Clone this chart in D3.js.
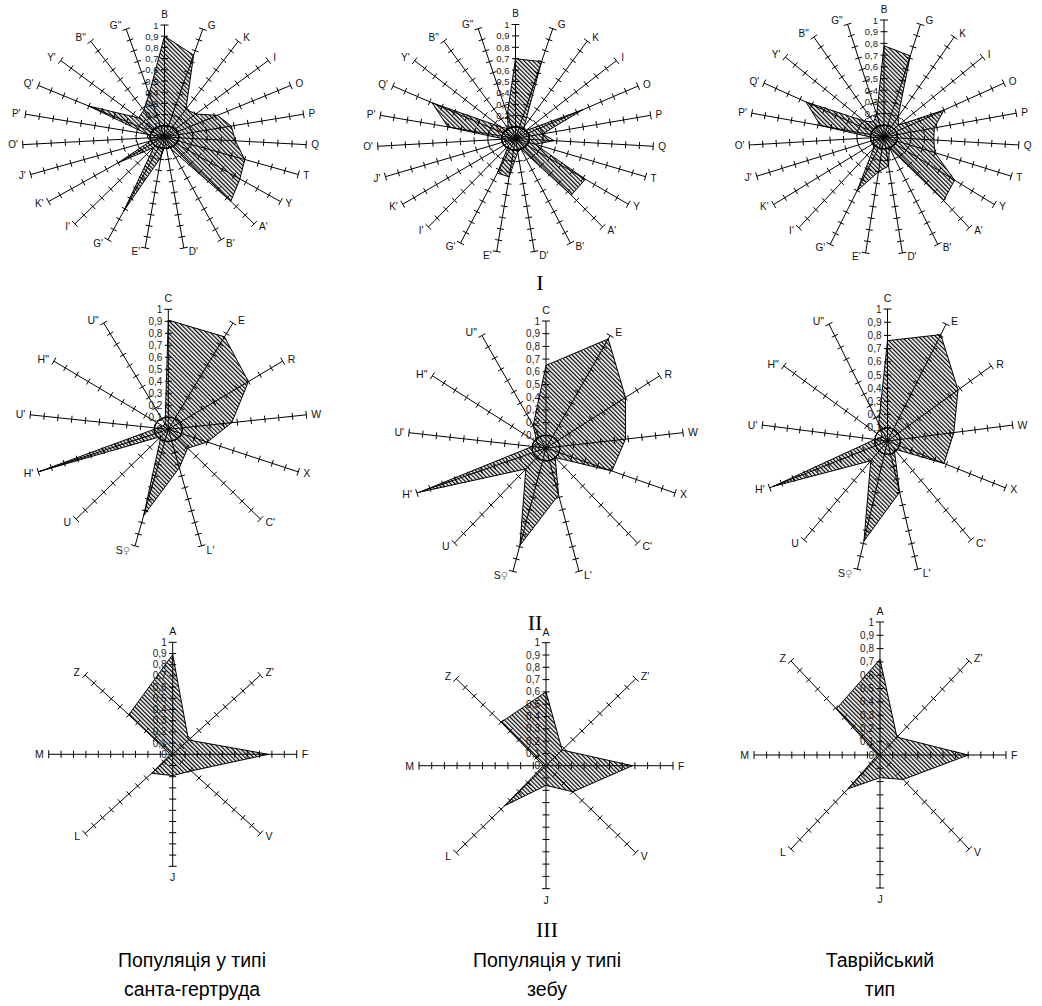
<!DOCTYPE html>
<html><head><meta charset="utf-8">
<script src="https://cdn.jsdelivr.net/npm/d3@7"></script>
<style>body{margin:0;background:#fff}svg{display:block}</style>
</head><body>
<svg id="c" width="1042" height="1006"></svg>
<script>
// ---------- DATA ----------
const axesI = ["B","G","K","I","O","P","Q","T","Y","A'","B'","D'","E'","G'","I'","K'","J'","O'","P'","Q'","Y'","B\"","G\""];
const santaI = [0.90,0.76,0.29,0.30,0.42,0.48,0.50,0.60,0.65,0.74,0.12,0.06,0.18,0.72,0.12,0.40,0.10,0.12,0.12,0.60,0.25,0.28,0.40];
const zebuI  = [0.70,0.70,0.12,0.10,0.55,0.20,0.28,0.15,0.62,0.64,0.10,0.12,0.34,0.33,0.08,0.08,0.08,0.08,0.50,0.68,0.15,0.10,0.22];
const tavrI  = [0.78,0.72,0.20,0.15,0.50,0.38,0.37,0.40,0.64,0.70,0.10,0.25,0.30,0.50,0.12,0.10,0.08,0.08,0.48,0.65,0.20,0.15,0.20];

const axesII = ["C","E","R","W","X","C'","L'","S♀","U","H'","U'","H\"","U\""];
const santaII = [0.91,0.87,0.70,0.46,0.30,0.21,0.33,0.74,0.08,0.99,0.08,0.05,0.05];
const zebuII  = [0.65,0.97,0.70,0.58,0.51,0.10,0.38,0.79,0.22,0.98,0.10,0.08,0.20];
const tavrII  = [0.76,0.91,0.68,0.53,0.48,0.08,0.40,0.78,0.20,0.97,0.10,0.05,0.15];

const axesIII = ["A","Z'","F","V","J","L","M","Z"];
const santaIII = [0.89,0.18,0.77,0.21,0.19,0.24,0.02,0.50];
const zebuIII  = [0.60,0.18,0.68,0.30,0.16,0.46,0.02,0.50];
const tavrIII  = [0.72,0.19,0.70,0.26,0.17,0.36,0.02,0.49];

const tickValues = [0,0.1,0.2,0.3,0.4,0.5,0.6,0.7,0.8,0.9,1];
const tickLabels = ["0","0,1","0,2","0,3","0,4","0,5","0,6","0,7","0,8","0,9","1"];

const groupLabels = ["I","II","III"];
const captions = [["Популяція у типі","санта-гертруда"],["Популяція у типі","зебу"],["Таврійський","тип"]];

// ---------- LAYOUT ----------
const charts = [
  {axes:axesI, vals:santaI, cx:164.5, cy:137, rx:142, ry:112, circle:true, fs:9.5},
  {axes:axesI, vals:zebuI,  cx:515.5, cy:138.5, rx:138, ry:114, circle:true, fs:9.5},
  {axes:axesI, vals:tavrI,  cx:884,   cy:137, rx:135, ry:117, circle:true, fs:9.5},
  {axes:axesII, vals:santaII, cx:168.3, cy:429.3, rx:139, ry:120, circle:true, fs:10},
  {axes:axesII, vals:zebuII,  cx:546,   cy:448,   rx:138, ry:127, circle:true, fs:10},
  {axes:axesII, vals:tavrII,  cx:887.5, cy:441,   rx:126, ry:132, circle:true, fs:10},
  {axes:axesIII, vals:santaIII, cx:172.7, cy:754.3, rx:124, ry:112, circle:false, fs:10},
  {axes:axesIII, vals:zebuIII,  cx:546,   cy:765.7, rx:127, ry:123, circle:false, fs:10},
  {axes:axesIII, vals:tavrIII,  cx:880,   cy:755,   rx:126, ry:133, circle:false, fs:10}
];

const svg = d3.select("#c");
const defs = svg.append("defs");
const pat = defs.append("pattern").attr("id","hatch")
  .attr("patternUnits","userSpaceOnUse").attr("width",3).attr("height",3)
  .attr("patternTransform","rotate(-45)");
pat.append("rect").attr("x",0).attr("y",0).attr("width",1.25).attr("height",3).attr("fill","#000");

function drawRadar(cfg){
  const g = svg.append("g");
  const n = cfg.axes.length;
  const ang = d3.scaleLinear().domain([0,n]).range([0,2*Math.PI]);
  const sx = d3.scaleLinear().domain([0,1]).range([0,cfg.rx]);
  const sy = d3.scaleLinear().domain([0,1]).range([0,cfg.ry]);
  const pt = (i,v) => [cfg.cx + sx(v)*Math.sin(ang(i)), cfg.cy - sy(v)*Math.cos(ang(i))];

  cfg.axes.forEach((a,i)=>{
    const e = pt(i,1);
    g.append("line").attr("x1",cfg.cx).attr("y1",cfg.cy).attr("x2",e[0]).attr("y2",e[1])
      .attr("stroke","#000").attr("stroke-width",1);
    let dx = Math.sin(ang(i))*cfg.rx, dy = -Math.cos(ang(i))*cfg.ry;
    const L = Math.hypot(dx,dy); dx/=L; dy/=L;
    const px = -dy, py = dx;
    tickValues.slice(1).forEach(t=>{
      const p = pt(i,t);
      const h = t===1 ? 4 : 3.5;
      g.append("line").attr("x1",p[0]-px*h).attr("y1",p[1]-py*h).attr("x2",p[0]+px*h).attr("y2",p[1]+py*h)
        .attr("stroke","#000").attr("stroke-width",1);
    });
    const s = Math.sin(ang(i)), c = Math.cos(ang(i));
    const side = Math.abs(s) > 0.05;
    const lx = e[0] + (side ? 5*Math.sign(s) : 0);
    const ly = e[1] - c*(side ? 4 : 11);
    const txt = g.append("text").attr("x",lx).attr("y",ly)
      .attr("text-anchor", side ? (s>0?"start":"end") : "middle")
      .attr("dominant-baseline","central")
      .attr("font-family","'Liberation Sans', Arial, sans-serif").attr("font-size",cfg.fs+0.5)
      .attr("fill","#111");
    if (a.includes("♀")) {
      txt.append("tspan").text(a.replace("♀",""));
      txt.append("tspan").attr("fill","#999").attr("font-family","'DejaVu Sans', sans-serif")
        .attr("font-size",cfg.fs).text("♀");
    } else txt.text(a);
  });

  tickValues.forEach((t,k)=>{
    const p = pt(0,t);
    g.append("text").attr("x",cfg.cx-6).attr("y",p[1]).attr("text-anchor","end")
      .attr("dominant-baseline","central")
      .attr("font-family","'Liberation Sans', Arial, sans-serif").attr("font-size",cfg.fs)
      .attr("fill","#222").text(tickLabels[k]);
  });

  const line = d3.line().curve(d3.curveLinearClosed);
  g.append("path").attr("d", line(cfg.vals.map((v,i)=>pt(i,v))))
    .attr("fill","url(#hatch)").attr("stroke","#000").attr("stroke-width",1);

  if (cfg.circle){
    g.append("ellipse").attr("cx",cfg.cx).attr("cy",cfg.cy).attr("rx",sx(0.1)).attr("ry",sy(0.1))
      .attr("fill","none").attr("stroke","#000").attr("stroke-width",1.2);
  }
}
charts.forEach(drawRadar);

const numPos = [[540,290],[535,630],[547,937]];
groupLabels.forEach((t,i)=>{
  svg.append("text").attr("x",numPos[i][0]).attr("y",numPos[i][1]).attr("text-anchor","middle")
    .attr("font-family","'Liberation Serif','Times New Roman',serif").attr("font-size",22).text(t);
});
const capX = [192,547,880];
captions.forEach((lines,i)=>{
  lines.forEach((l,j)=>{
    svg.append("text").attr("x",capX[i]).attr("y",967+29*j).attr("text-anchor","middle")
      .attr("font-family","'Liberation Sans', Arial, sans-serif").attr("font-size",19.5).text(l);
  });
});
</script>
</body></html>
